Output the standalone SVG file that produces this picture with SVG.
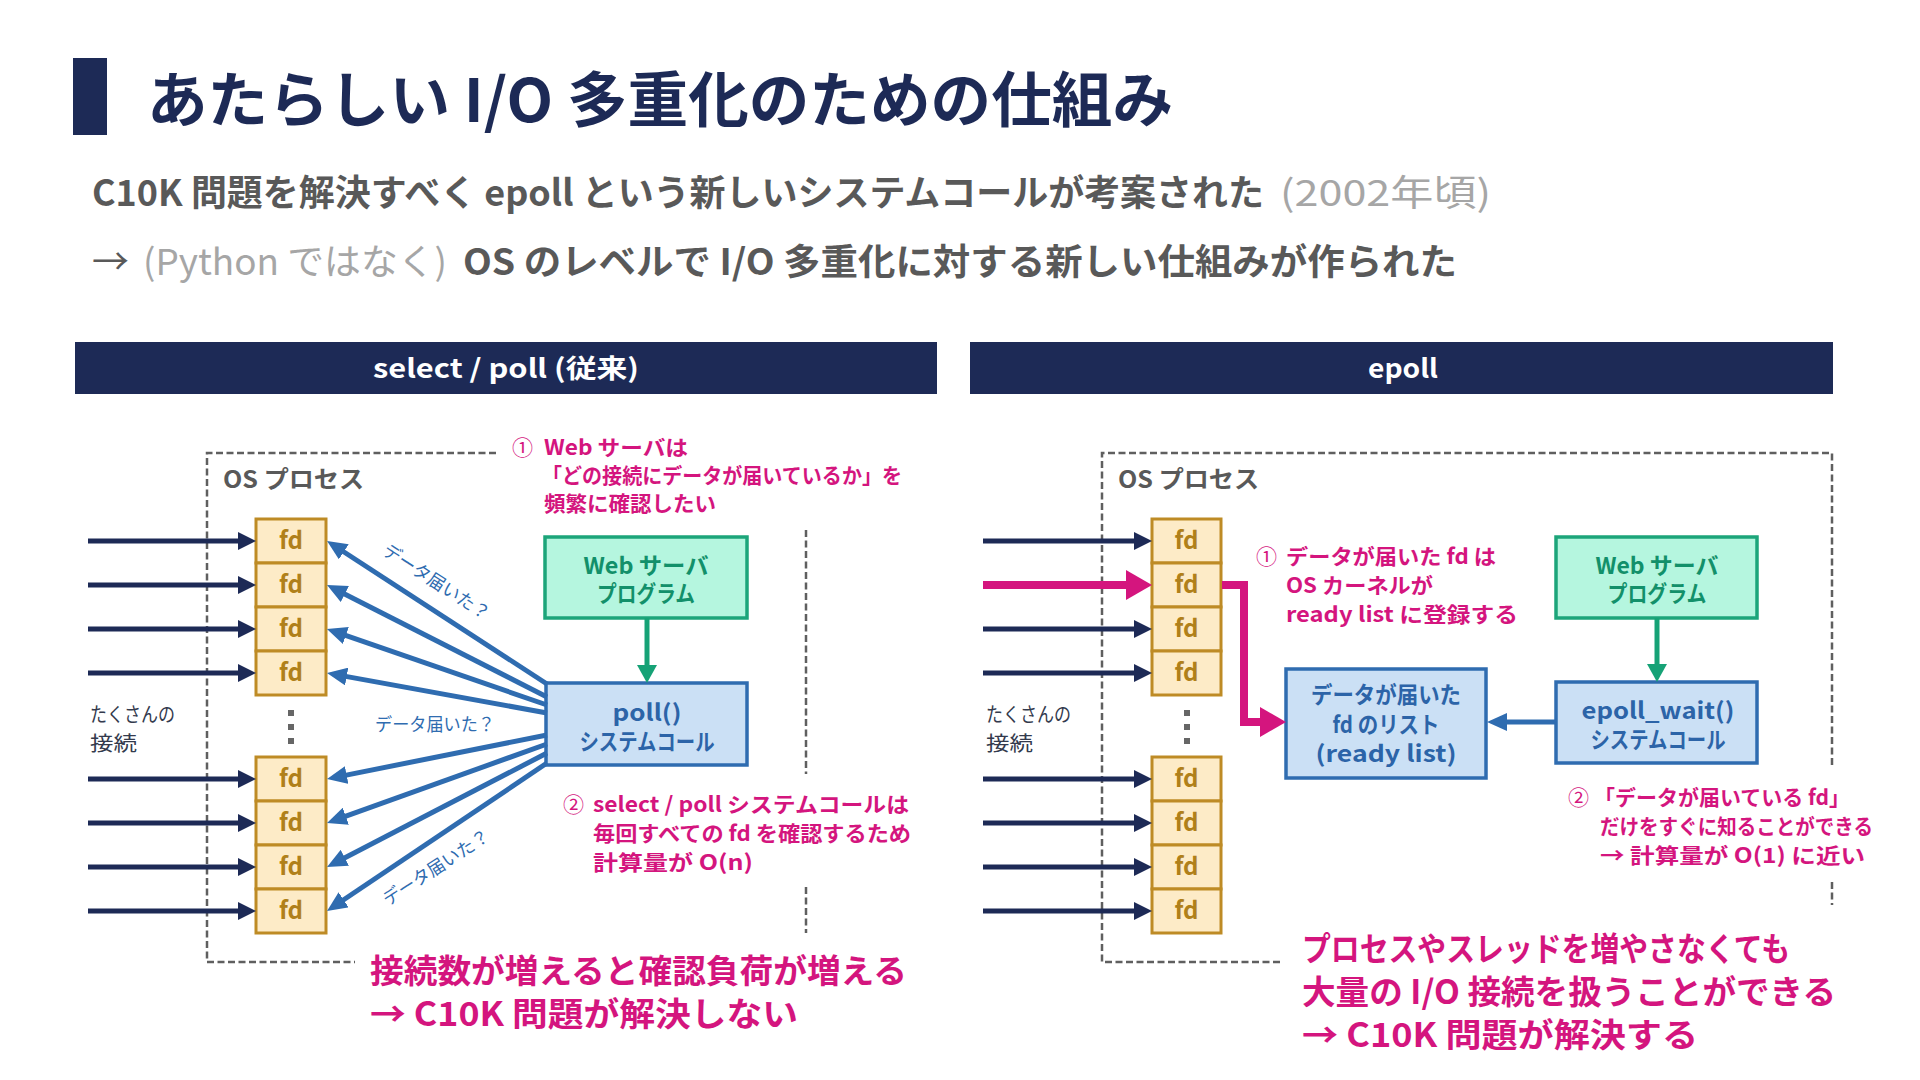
<svg xmlns="http://www.w3.org/2000/svg" width="1920" height="1080" viewBox="0 0 1920 1080">
<defs>
<style>
text{font-family:"Noto Sans CJK JP","Noto Sans",sans-serif;}
.b{font-weight:700}
.dash{stroke:#5f5f5f;stroke-width:2.5;stroke-dasharray:7 3.5;fill:none}
.fd rect{fill:#fdebc7;stroke:#be8b25;stroke-width:3}
.fd text{fill:#b0801a;font-size:24px;font-weight:700;text-anchor:middle}
.gbox rect{fill:#b5f6df;stroke:#1ca57a;stroke-width:3.5}
.gbox text{fill:#12906a;font-size:23px;font-weight:700;text-anchor:middle}
.bbox rect{fill:#cbe0f5;stroke:#2f6cb0;stroke-width:3.5}
.bbox text{fill:#2c64a8;font-size:23px;font-weight:700;text-anchor:middle}
.pk{fill:#d4157e;font-size:21px;font-weight:700}
.pkn{fill:#d4157e;font-size:21px;font-weight:400}
.big{fill:#d4157e;font-size:33px;font-weight:700}
.lbl{fill:#2f6cb0;font-size:18px}
.conn{fill:#333a4d;font-size:20px}
.osp{fill:#595959;font-size:24px;font-weight:700}
.navy{stroke:#1d2a56;stroke-width:5;fill:none}
.blue{stroke:#2f6cb0;stroke-width:5;fill:none}
.green{stroke:#16a276;stroke-width:5;fill:none}
.pink{stroke:#d4157e;stroke-width:8;fill:none}
.dot{fill:#666}
</style>
<marker id="ah-navy" markerUnits="userSpaceOnUse" viewBox="0 0 18 18" markerWidth="18" markerHeight="18" refX="6" refY="9" orient="auto"><path d="M0,0 L18,9 L0,18 z" fill="#1d2a56"/></marker>
<marker id="ah-blue" markerUnits="userSpaceOnUse" viewBox="0 0 20 18" markerWidth="20" markerHeight="18" refX="8" refY="9" orient="auto"><path d="M0,0 L20,9 L0,18 z" fill="#2f6cb0"/></marker>
<marker id="ah-green" markerUnits="userSpaceOnUse" viewBox="0 0 18 20" markerWidth="18" markerHeight="20" refX="6" refY="10" orient="auto"><path d="M0,0 L18,10 L0,20 z" fill="#16a276"/></marker>
<marker id="ah-pink" markerUnits="userSpaceOnUse" viewBox="0 0 26 30" markerWidth="26" markerHeight="30" refX="14" refY="15" orient="auto"><path d="M0,0 L26,15 L0,30 z" fill="#d4157e"/></marker>
</defs>
<rect x="0" y="0" width="1920" height="1080" fill="#ffffff"/>

<g id="title">
<rect x="73" y="58" width="34" height="77" fill="#1d2a56"/>
<text x="147" y="122" font-size="60" class="b" fill="#1d2a56" textLength="1026" lengthAdjust="spacingAndGlyphs">あたらしい I/O 多重化のための仕組み</text>
</g>

<g id="subtitle">
<text x="92" y="206" font-size="36" class="b" fill="#595959" textLength="1172" lengthAdjust="spacingAndGlyphs">C10K 問題を解決すべく epoll という新しいシステムコールが考案された</text>
<text x="1280" y="206" font-size="36" fill="#a6a6a6" textLength="211" lengthAdjust="spacingAndGlyphs">(2002年頃)</text>
<text x="92" y="275" font-size="36" fill="#595959" textLength="37" lengthAdjust="spacingAndGlyphs">→</text>
<text x="143" y="275" font-size="36" fill="#a6a6a6" textLength="304" lengthAdjust="spacingAndGlyphs">(Python ではなく)</text>
<text x="463" y="275" font-size="36" class="b" fill="#595959" textLength="994" lengthAdjust="spacingAndGlyphs">OS のレベルで I/O 多重化に対する新しい仕組みが作られた</text>
</g>

<g id="header-left">
<rect x="75" y="342" width="862" height="52" fill="#1d2a56"/>
<text x="506" y="378" font-size="26" class="b" fill="#ffffff" text-anchor="middle" textLength="266" lengthAdjust="spacingAndGlyphs">select / poll (従来)</text>
</g>
<g id="header-right">
<rect x="970" y="342" width="863" height="52" fill="#1d2a56"/>
<text x="1403" y="378" font-size="26" class="b" fill="#ffffff" text-anchor="middle" textLength="70" lengthAdjust="spacingAndGlyphs">epoll</text>
</g>

<!-- LEFT PANEL -->
<g id="left-os-process">
<path class="dash" d="M496,453 H207 V962 H355"/>
<path class="dash" d="M806,530 V774 M806,887 V933"/>
<text x="223" y="488" class="osp" textLength="141" lengthAdjust="spacingAndGlyphs">OS プロセス</text>
</g>
<g id="left-connections-label">
<text x="90" y="722" class="conn" textLength="85" lengthAdjust="spacingAndGlyphs">たくさんの</text>
<text x="90" y="751" class="conn" textLength="47" lengthAdjust="spacingAndGlyphs">接続</text>
</g>
<g id="left-fd-1" class="fd"><rect x="256" y="519" width="70" height="44"/><text x="291" y="549">fd</text></g>
<g id="left-fd-2" class="fd"><rect x="256" y="563" width="70" height="44"/><text x="291" y="593">fd</text></g>
<g id="left-fd-3" class="fd"><rect x="256" y="607" width="70" height="44"/><text x="291" y="637">fd</text></g>
<g id="left-fd-4" class="fd"><rect x="256" y="651" width="70" height="44"/><text x="291" y="681">fd</text></g>
<g id="left-dots"><rect class="dot" x="288" y="710" width="6" height="6"/><rect class="dot" x="288" y="724" width="6" height="6"/><rect class="dot" x="288" y="738" width="6" height="6"/></g>
<g id="left-fd-5" class="fd"><rect x="256" y="757" width="70" height="44"/><text x="291" y="787">fd</text></g>
<g id="left-fd-6" class="fd"><rect x="256" y="801" width="70" height="44"/><text x="291" y="831">fd</text></g>
<g id="left-fd-7" class="fd"><rect x="256" y="845" width="70" height="44"/><text x="291" y="875">fd</text></g>
<g id="left-fd-8" class="fd"><rect x="256" y="889" width="70" height="44"/><text x="291" y="919">fd</text></g>

<g id="left-webserver" class="gbox">
<rect x="545" y="537" width="202" height="81"/>
<text x="646" y="574" textLength="125" lengthAdjust="spacingAndGlyphs">Web サーバ</text>
<text x="646" y="602" textLength="98" lengthAdjust="spacingAndGlyphs">プログラム</text>
</g>
<g id="left-poll" class="bbox">
<rect x="546" y="683" width="201" height="82"/>
<text x="647" y="721" textLength="69" lengthAdjust="spacingAndGlyphs">poll()</text>
<text x="647" y="750" textLength="135" lengthAdjust="spacingAndGlyphs">システムコール</text>
</g>

<g id="left-note-1">
<text x="512" y="455" class="pkn">①</text>
<text x="544" y="455" class="pk" textLength="144" lengthAdjust="spacingAndGlyphs">Web サーバは</text>
<text x="542" y="483" class="pk" textLength="360" lengthAdjust="spacingAndGlyphs">「どの接続にデータが届いているか」を</text>
<text x="544" y="511" class="pk" textLength="172" lengthAdjust="spacingAndGlyphs">頻繁に確認したい</text>
</g>
<g id="left-note-2">
<text x="563" y="812" class="pkn">②</text>
<text x="593" y="812" class="pk" textLength="316" lengthAdjust="spacingAndGlyphs">select / poll システムコールは</text>
<text x="593" y="841" class="pk" textLength="318" lengthAdjust="spacingAndGlyphs">毎回すべての fd を確認するため</text>
<text x="593" y="870" class="pk" textLength="160" lengthAdjust="spacingAndGlyphs">計算量が O(n)</text>
</g>
<g id="left-conclusion">
<text x="370" y="983" class="big" textLength="537" lengthAdjust="spacingAndGlyphs">接続数が増えると確認負荷が増える</text>
<text x="370" y="1026" class="big" textLength="428" lengthAdjust="spacingAndGlyphs">→ C10K 問題が解決しない</text>
</g>

<!-- RIGHT PANEL -->
<g id="right-os-process">
<path class="dash" d="M1280,962 H1102 V453 H1832 V767 M1832,882 V905"/>
<text x="1118" y="488" class="osp" textLength="141" lengthAdjust="spacingAndGlyphs">OS プロセス</text>
</g>
<g id="right-connections-label">
<text x="986" y="722" class="conn" textLength="85" lengthAdjust="spacingAndGlyphs">たくさんの</text>
<text x="986" y="751" class="conn" textLength="47" lengthAdjust="spacingAndGlyphs">接続</text>
</g>
<g id="right-fd-1" class="fd"><rect x="1152" y="519" width="69" height="44"/><text x="1186.5" y="549">fd</text></g>
<g id="right-fd-2" class="fd"><rect x="1152" y="563" width="69" height="44"/><text x="1186.5" y="593">fd</text></g>
<g id="right-fd-3" class="fd"><rect x="1152" y="607" width="69" height="44"/><text x="1186.5" y="637">fd</text></g>
<g id="right-fd-4" class="fd"><rect x="1152" y="651" width="69" height="44"/><text x="1186.5" y="681">fd</text></g>
<g id="right-dots"><rect class="dot" x="1184" y="710" width="6" height="6"/><rect class="dot" x="1184" y="724" width="6" height="6"/><rect class="dot" x="1184" y="738" width="6" height="6"/></g>
<g id="right-fd-5" class="fd"><rect x="1152" y="757" width="69" height="44"/><text x="1186.5" y="787">fd</text></g>
<g id="right-fd-6" class="fd"><rect x="1152" y="801" width="69" height="44"/><text x="1186.5" y="831">fd</text></g>
<g id="right-fd-7" class="fd"><rect x="1152" y="845" width="69" height="44"/><text x="1186.5" y="875">fd</text></g>
<g id="right-fd-8" class="fd"><rect x="1152" y="889" width="69" height="44"/><text x="1186.5" y="919">fd</text></g>

<g id="right-readylist" class="bbox">
<rect x="1286" y="669" width="200" height="109"/>
<text x="1386" y="703" textLength="150" lengthAdjust="spacingAndGlyphs">データが届いた</text>
<text x="1386" y="733" textLength="107" lengthAdjust="spacingAndGlyphs">fd のリスト</text>
<text x="1386" y="762" textLength="141" lengthAdjust="spacingAndGlyphs">(ready list)</text>
</g>
<g id="right-webserver" class="gbox">
<rect x="1556" y="537" width="201" height="81"/>
<text x="1657" y="574" textLength="123" lengthAdjust="spacingAndGlyphs">Web サーバ</text>
<text x="1657" y="602" textLength="99" lengthAdjust="spacingAndGlyphs">プログラム</text>
</g>
<g id="right-epollwait" class="bbox">
<rect x="1556" y="682" width="201" height="81"/>
<text x="1658" y="719" textLength="153" lengthAdjust="spacingAndGlyphs">epoll_wait()</text>
<text x="1658" y="748" textLength="135" lengthAdjust="spacingAndGlyphs">システムコール</text>
</g>

<g id="right-note-1">
<text x="1256" y="564" class="pkn">①</text>
<text x="1286" y="564" class="pk" textLength="210" lengthAdjust="spacingAndGlyphs">データが届いた fd は</text>
<text x="1286" y="593" class="pk" textLength="147" lengthAdjust="spacingAndGlyphs">OS カーネルが</text>
<text x="1286" y="622" class="pk" textLength="232" lengthAdjust="spacingAndGlyphs">ready list に登録する</text>
</g>
<g id="right-note-2">
<text x="1568" y="805" class="pkn">②</text>
<text x="1594" y="805" class="pk" textLength="256" lengthAdjust="spacingAndGlyphs">「データが届いている fd」</text>
<text x="1600" y="834" class="pk" textLength="273" lengthAdjust="spacingAndGlyphs">だけをすぐに知ることができる</text>
<text x="1600" y="863" class="pk" textLength="265" lengthAdjust="spacingAndGlyphs">→ 計算量が O(1) に近い</text>
</g>
<g id="right-conclusion">
<text x="1302" y="961" class="big" textLength="488" lengthAdjust="spacingAndGlyphs">プロセスやスレッドを増やさなくても</text>
<text x="1302" y="1004" class="big" textLength="534" lengthAdjust="spacingAndGlyphs">大量の I/O 接続を扱うことができる</text>
<text x="1302" y="1047" class="big" textLength="396" lengthAdjust="spacingAndGlyphs">→ C10K 問題が解決する</text>
</g>

<g id="connectors">
<!-- left incoming -->
<line class="navy" x1="88" y1="541" x2="244" y2="541" marker-end="url(#ah-navy)"/>
<line class="navy" x1="88" y1="585" x2="244" y2="585" marker-end="url(#ah-navy)"/>
<line class="navy" x1="88" y1="629" x2="244" y2="629" marker-end="url(#ah-navy)"/>
<line class="navy" x1="88" y1="673" x2="244" y2="673" marker-end="url(#ah-navy)"/>
<line class="navy" x1="88" y1="779" x2="244" y2="779" marker-end="url(#ah-navy)"/>
<line class="navy" x1="88" y1="823" x2="244" y2="823" marker-end="url(#ah-navy)"/>
<line class="navy" x1="88" y1="867" x2="244" y2="867" marker-end="url(#ah-navy)"/>
<line class="navy" x1="88" y1="911" x2="244" y2="911" marker-end="url(#ah-navy)"/>
<!-- left fan from poll -->
<line class="blue" x1="547" y1="684" x2="337.1" y2="547.5" marker-end="url(#ah-blue)"/>
<line class="blue" x1="547" y1="697" x2="337.7" y2="590.4" marker-end="url(#ah-blue)"/>
<line class="blue" x1="547" y1="705" x2="338.3" y2="632.9" marker-end="url(#ah-blue)"/>
<line class="blue" x1="547" y1="713" x2="338.8" y2="675.1" marker-end="url(#ah-blue)"/>
<line class="blue" x1="547" y1="735" x2="338.8" y2="776.6" marker-end="url(#ah-blue)"/>
<line class="blue" x1="547" y1="744" x2="338.3" y2="818.9" marker-end="url(#ah-blue)"/>
<line class="blue" x1="547" y1="753" x2="337.7" y2="861.5" marker-end="url(#ah-blue)"/>
<line class="blue" x1="547" y1="763" x2="337.0" y2="904.3" marker-end="url(#ah-blue)"/>
<text class="lbl" transform="translate(436 582) rotate(33)" x="-61" y="6" textLength="123" lengthAdjust="spacingAndGlyphs">データ届いた？</text>
<text class="lbl" x="375" y="731" textLength="120" lengthAdjust="spacingAndGlyphs">データ届いた？</text>
<text class="lbl" transform="translate(436 868) rotate(-33)" x="-61" y="6" textLength="123" lengthAdjust="spacingAndGlyphs">データ届いた？</text>
<!-- left web -> poll -->
<line class="green" x1="647" y1="618" x2="647" y2="671" marker-end="url(#ah-green)"/>
<!-- right incoming -->
<line class="navy" x1="983" y1="541" x2="1140" y2="541" marker-end="url(#ah-navy)"/>
<line class="pink" x1="983" y1="585" x2="1140" y2="585" marker-end="url(#ah-pink)"/>
<line class="navy" x1="983" y1="629" x2="1140" y2="629" marker-end="url(#ah-navy)"/>
<line class="navy" x1="983" y1="673" x2="1140" y2="673" marker-end="url(#ah-navy)"/>
<line class="navy" x1="983" y1="779" x2="1140" y2="779" marker-end="url(#ah-navy)"/>
<line class="navy" x1="983" y1="823" x2="1140" y2="823" marker-end="url(#ah-navy)"/>
<line class="navy" x1="983" y1="867" x2="1140" y2="867" marker-end="url(#ah-navy)"/>
<line class="navy" x1="983" y1="911" x2="1140" y2="911" marker-end="url(#ah-navy)"/>
<!-- fd -> ready list -->
<path class="pink" d="M1222,585 H1244 V722 H1274" stroke-linejoin="miter" marker-end="url(#ah-pink)"/>
<!-- web -> epoll_wait -->
<line class="green" x1="1657" y1="618" x2="1657" y2="670" marker-end="url(#ah-green)"/>
<!-- epoll_wait -> ready list -->
<line class="blue" x1="1556" y1="722" x2="1499" y2="722" marker-end="url(#ah-blue)"/>
</g>
</svg>
